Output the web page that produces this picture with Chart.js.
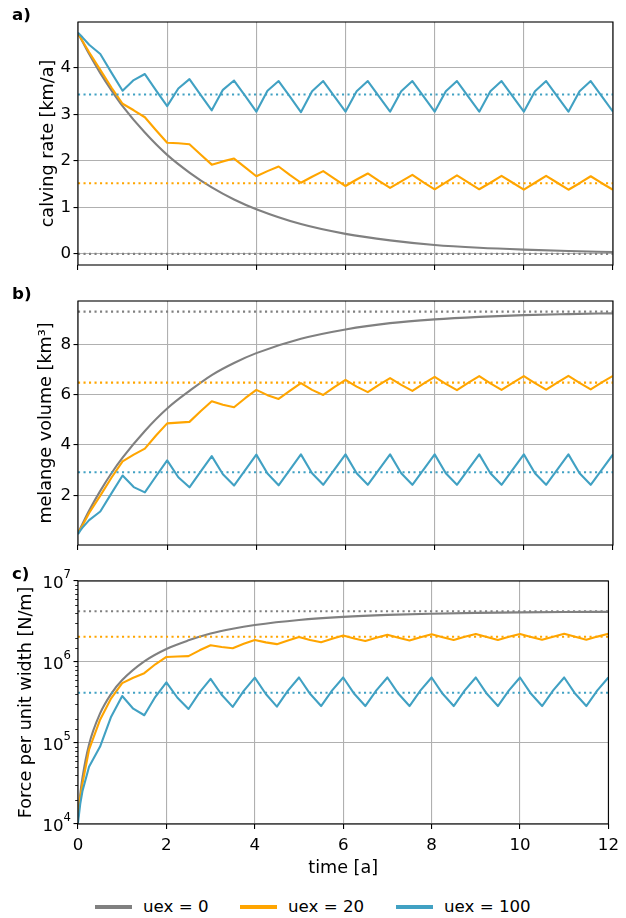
<!DOCTYPE html>
<html>
<head>
<meta charset="utf-8">
<script src="https://cdn.jsdelivr.net/npm/chart.js@4.4.1/dist/chart.umd.min.js"></script>
<style>
	html, body { margin: 0; padding: 0; background: #fff; }
	body { width: 626px; height: 918px; position: relative; overflow: hidden; font-family: "DejaVu Sans", sans-serif; }
	canvas { position: absolute; left: 0; }
	#legend { position: absolute; left: 0; top: 897px; width: 626px; height: 20px; font-size: 16.67px; line-height: 20px; color: #000; }
	#legend .item { position: absolute; top: 0; display: flex; align-items: center; white-space: nowrap; }
	#legend .swatch { display: block; width: 37px; height: 4px; margin-right: 11px; }
</style>
</head>
<body>
<canvas id="calving" width="626" height="280" style="top:0"></canvas>
<canvas id="volume" width="626" height="280" style="top:280px"></canvas>
<canvas id="force" width="626" height="320" style="top:560px"></canvas>
<div id="legend"></div>
<script>
'use strict';

// Model runs
const runLabels = ['uex = 0', 'uex = 20', 'uex = 100'];
const runColors = ['#808080', '#ffa500', '#41a1c3'];

// Output times [a]: the smooth run and the seasonal runs
const yearsSmooth = [0, 0.05, 0.1, 0.25, 0.5, 0.75, 1, 1.5, 2, 2.5, 3, 3.5, 4, 5, 6, 7, 8, 9, 10, 11, 12];
const years = [0, 0.05, 0.1, 0.25, 0.5, 0.75, 1, 1.25, 1.5, 1.75, 2, 2.25, 2.5, 2.75, 3, 3.25, 3.5, 3.75,
	4, 4.25, 4.5, 4.75, 5, 5.25, 5.5, 5.75, 6, 6.25, 6.5, 6.75, 7, 7.25, 7.5, 7.75, 8, 8.25, 8.5, 8.75,
	9, 9.25, 9.5, 9.75, 10, 10.25, 10.5, 10.75, 11, 11.25, 11.5, 11.75, 12];

// a) calving rate [km/a]
const calvingUex0 = [4.75, 4.66, 4.57, 4.30, 3.89, 3.52, 3.18, 2.61, 2.13, 1.75, 1.43, 1.17, 0.96, 0.64, 0.43, 0.29, 0.19, 0.13, 0.09, 0.06, 0.04];
const calvingUex20 = [4.75, 4.66, 4.58, 4.34, 3.96, 3.58, 3.23, 3.09, 2.94, 2.66, 2.39, 2.38, 2.36, 2.14, 1.92, 1.99, 2.05, 1.86,
	1.67, 1.78, 1.88, 1.70, 1.53, 1.66, 1.78, 1.62, 1.46, 1.60, 1.73, 1.57, 1.42, 1.56, 1.70, 1.54, 1.39, 1.54, 1.69, 1.54,
	1.39, 1.53, 1.68, 1.53, 1.38, 1.53, 1.68, 1.53, 1.38, 1.52, 1.67, 1.52, 1.38];
const calvingUex100 = [4.76, 4.71, 4.66, 4.50, 4.30, 3.90, 3.51, 3.74, 3.87, 3.52, 3.18, 3.56, 3.76, 3.42, 3.09, 3.53, 3.73, 3.40,
	3.06, 3.51, 3.72, 3.39, 3.05, 3.50, 3.72, 3.39, 3.06, 3.50, 3.72, 3.39, 3.06, 3.50, 3.72, 3.39, 3.06, 3.50, 3.72, 3.39,
	3.06, 3.50, 3.72, 3.39, 3.06, 3.50, 3.72, 3.39, 3.06, 3.50, 3.72, 3.39, 3.06];
const calvingSteady = [0, 1.52, 3.43];

// b) melange volume [km3]
const volumeUex0 = [0.50, 0.69, 0.87, 1.40, 2.18, 2.88, 3.50, 4.56, 5.45, 6.15, 6.78, 7.26, 7.65, 8.22, 8.59, 8.84, 8.99, 9.09, 9.16, 9.20, 9.23];
const volumeUex20 = [0.50, 0.66, 0.80, 1.30, 1.99, 2.70, 3.35, 3.62, 3.86, 4.38, 4.86, 4.89, 4.92, 5.34, 5.74, 5.60, 5.50, 5.86,
	6.19, 5.98, 5.83, 6.15, 6.46, 6.19, 5.99, 6.30, 6.59, 6.32, 6.10, 6.39, 6.66, 6.39, 6.15, 6.44, 6.71, 6.43, 6.18, 6.47,
	6.74, 6.45, 6.19, 6.47, 6.74, 6.46, 6.20, 6.48, 6.75, 6.47, 6.21, 6.49, 6.75];
const volumeUex100 = [0.46, 0.60, 0.72, 1.02, 1.36, 2.08, 2.79, 2.33, 2.12, 2.76, 3.39, 2.72, 2.32, 2.94, 3.56, 2.84, 2.39, 3.00,
	3.62, 2.87, 2.40, 3.01, 3.63, 2.88, 2.42, 3.02, 3.63, 2.88, 2.42, 3.02, 3.63, 2.88, 2.42, 3.02, 3.63, 2.88, 2.42, 3.02,
	3.63, 2.88, 2.42, 3.02, 3.63, 2.88, 2.42, 3.02, 3.63, 2.88, 2.42, 3.02, 3.63];
const volumeSteady = [9.30, 6.48, 2.92];

// c) force per unit width [N/m]
const forceUex0 = [1.2e4, 2.3e4, 3.7e4, 9.6e4, 2.32e5, 4.05e5, 5.99e5, 1.02e6, 1.45e6, 1.85e6, 2.25e6, 2.58e6, 2.86e6,
	3.30e6, 3.61e6, 3.82e6, 3.95e6, 4.04e6, 4.10e6, 4.14e6, 4.16e6];
const forceUex20 = [1.22e4, 2.13e4, 3.13e4, 8.26e4, 1.94e5, 3.56e5, 5.48e5, 6.40e5, 7.28e5, 9.38e5, 1.154e6, 1.169e6, 1.183e6,
	1.394e6, 1.610e6, 1.533e6, 1.478e6, 1.678e6, 1.873e6, 1.748e6, 1.661e6, 1.848e6, 2.039e6, 1.873e6, 1.753e6, 1.940e6,
	2.122e6, 1.952e6, 1.818e6, 1.995e6, 2.168e6, 1.995e6, 1.848e6, 2.027e6, 2.200e6, 2.020e6, 1.866e6, 2.046e6, 2.220e6,
	2.033e6, 1.873e6, 2.046e6, 2.220e6, 2.039e6, 1.879e6, 2.052e6, 2.227e6, 2.046e6, 1.885e6, 2.058e6, 2.227e6];
const forceUex100 = [1.03e4, 1.76e4, 2.53e4, 5.08e4, 9.04e4, 2.11e5, 3.80e5, 2.65e5, 2.20e5, 3.72e5, 5.62e5, 3.62e5, 2.63e5,
	4.22e5, 6.19e5, 3.94e5, 2.79e5, 4.40e5, 6.40e5, 4.03e5, 2.81e5, 4.43e5, 6.44e5, 4.05e5, 2.86e5, 4.46e5, 6.44e5,
	4.05e5, 2.86e5, 4.46e5, 6.44e5, 4.05e5, 2.86e5, 4.46e5, 6.44e5, 4.05e5, 2.86e5, 4.46e5, 6.44e5, 4.05e5, 2.86e5,
	4.46e5, 6.44e5, 4.05e5, 2.86e5, 4.46e5, 6.44e5, 4.05e5, 2.86e5, 4.46e5, 6.44e5];
const forceSteady = [4.23e6, 2.05e6, 4.17e5];

// Axis ticks
const timeTicks = [0, 2, 4, 6, 8, 10, 12];
const calvingTicks = [0, 1, 2, 3, 4];
const volumeTicks = [2, 4, 6, 8];
const forceTicks = [1e4, 1e5, 1e6, 1e7];

const FONT = '"DejaVu Sans", sans-serif';
const FS = 16.67;        // tick labels
const TITLE_FS = 17.6;   // axis titles
const GRID = '#b0b0b0';
const LINE_W = 2.1;

Chart.defaults.font.family = FONT;
Chart.defaults.font.size = FS;
Chart.defaults.color = '#000';

function points(xs, ys) {
	return xs.map(function(x, i) { return { x: x, y: ys[i] }; });
}

/**
 * One solid line per run plus its dotted steady-state level.
 * Later runs are drawn on top, so the list is reversed at the end.
 */
function buildDatasets(runs, steady) {
	const t0 = timeTicks[0];
	const t1 = timeTicks[timeTicks.length - 1];
	const sets = [];
	runs.forEach(function(run, i) {
		sets.push({
			label: runLabels[i],
			data: points(run.t, run.y),
			borderColor: runColors[i],
			borderWidth: LINE_W,
			borderJoinStyle: 'round',
			pointRadius: 0,
			tension: 0,
			cubicInterpolationMode: run.smooth ? 'monotone' : 'default',
			fill: false
		});
		sets.push({
			label: runLabels[i] + ' steady state',
			data: points([t0, t1], [steady[i], steady[i]]),
			borderColor: runColors[i],
			borderWidth: LINE_W,
			borderDash: [2.1, 3.4],
			pointRadius: 0,
			fill: false
		});
	});
	return sets.reverse();
}

function timeScale(showLabels, height) {
	return {
		type: 'linear',
		min: timeTicks[0],
		max: timeTicks[timeTicks.length - 1],
		afterBuildTicks: function(s) { s.ticks = timeTicks.map(function(v) { return { value: v }; }); },
		afterFit: function(s) { s.height = height; },
		border: { display: false },
		grid: { color: GRID, lineWidth: 1.1, tickColor: '#000', tickWidth: 1.1, tickLength: 4.9 },
		ticks: { display: showLabels, padding: 7, autoSkip: false, maxRotation: 0 },
		title: { display: showLabels, text: 'time [a]', font: { size: TITLE_FS }, padding: { top: 0, bottom: 1.5 } }
	};
}

function linearScale(min, max, tickList, title, titleOffset) {
	return {
		type: 'linear',
		min: min,
		max: max,
		afterBuildTicks: function(s) { s.ticks = tickList.map(function(v) { return { value: v }; }); },
		afterFit: function(s) { s.width = 78; },
		border: { display: false },
		grid: { color: GRID, lineWidth: 1.1, tickColor: '#000', tickWidth: 1.1, tickLength: 4.5 },
		ticks: { padding: 2.5, autoSkip: false },
		title: { display: true, text: title, font: { size: TITLE_FS }, padding: { top: titleOffset, bottom: 0 } }
	};
}

function isDecade(v) {
	const l = Math.log10(v);
	return Math.abs(l - Math.round(l)) < 1e-9;
}

// Axes box on all four sides and the panel letter
const framePlugin = {
	id: 'frame',
	afterDraw: function(chart, args, opts) {
		const a = chart.chartArea;
		const ctx = chart.ctx;
		ctx.save();
		ctx.strokeStyle = '#000';
		ctx.lineWidth = 1.1;
		ctx.strokeRect(a.left, a.top, a.right - a.left, a.bottom - a.top);
		ctx.fillStyle = '#000';
		ctx.font = 'bold ' + FS + 'px ' + FONT;
		ctx.textAlign = 'left';
		ctx.textBaseline = 'middle';
		ctx.fillText(opts.letter, 12, a.top - 6.5);
		ctx.restore();
	}
};

// Power-of-ten labels and minor ticks on the log axis
const logAxisPlugin = {
	id: 'logAxis',
	afterDraw: function(chart) {
		const s = chart.scales.y;
		const ctx = chart.ctx;
		const left = chart.chartArea.left;
		ctx.save();
		ctx.strokeStyle = '#000';
		ctx.lineWidth = 0.85;
		s.ticks.forEach(function(t) {
			if (isDecade(t.value)) {
				return;
			}
			const y = Math.round(s.getPixelForValue(t.value)) + 0.5;
			ctx.beginPath();
			ctx.moveTo(left - 2.8, y);
			ctx.lineTo(left, y);
			ctx.stroke();
		});
		ctx.fillStyle = '#000';
		ctx.textAlign = 'right';
		ctx.textBaseline = 'middle';
		const right = left - 4.5 - 2.5;
		forceTicks.forEach(function(v) {
			const y = s.getPixelForValue(v);
			const exp = String(Math.round(Math.log10(v)));
			ctx.font = (FS * 0.7).toFixed(2) + 'px ' + FONT;
			const ew = ctx.measureText(exp).width;
			ctx.fillText(exp, right, y - 6);
			ctx.font = FS + 'px ' + FONT;
			ctx.fillText('10', right - ew, y + 2.5);
		});
		ctx.restore();
	}
};

function baseOptions(letter, padTop, scales) {
	return {
		responsive: false,
		animation: false,
		devicePixelRatio: 1,
		events: [],
		layout: { padding: { top: padTop, right: 13, bottom: 0, left: 0 } },
		plugins: {
			legend: { display: false },
			tooltip: { enabled: false },
			frame: { letter: letter }
		},
		scales: scales
	};
}

// a) calving rate
new Chart(document.getElementById('calving'), {
	type: 'line',
	data: {
		datasets: buildDatasets([
			{ t: yearsSmooth, y: calvingUex0, smooth: true },
			{ t: years, y: calvingUex20 },
			{ t: years, y: calvingUex100 }
		], calvingSteady)
	},
	options: baseOptions('a)', 22, {
		x: timeScale(false, 15),
		y: linearScale(-0.24, 4.99, calvingTicks, 'calving rate [km/a]', 37.4)
	}),
	plugins: [framePlugin]
});

// b) melange volume
new Chart(document.getElementById('volume'), {
	type: 'line',
	data: {
		datasets: buildDatasets([
			{ t: yearsSmooth, y: volumeUex0, smooth: true },
			{ t: years, y: volumeUex20 },
			{ t: years, y: volumeUex100 }
		], volumeSteady)
	},
	options: baseOptions('b)', 21, {
		x: timeScale(false, 15),
		y: linearScale(0.03, 9.72, volumeTicks, 'melange volume [km\u00b3]', 36)
	}),
	plugins: [framePlugin]
});

// c) force per unit width, log axis
new Chart(document.getElementById('force'), {
	type: 'line',
	data: {
		datasets: buildDatasets([
			{ t: yearsSmooth, y: forceUex0, smooth: true },
			{ t: years, y: forceUex20 },
			{ t: years, y: forceUex100 }
		], forceSteady)
	},
	options: baseOptions('c)', 21, {
		x: timeScale(true, 56),
		y: {
			type: 'logarithmic',
			min: forceTicks[0],
			max: forceTicks[forceTicks.length - 1],
			afterFit: function(s) { s.width = 78; },
			border: { display: false },
			grid: {
				lineWidth: 1.1,
				tickWidth: 1.1,
				tickLength: 4.5,
				color: function(c) { return c.tick && isDecade(c.tick.value) ? GRID : 'rgba(0,0,0,0)'; },
				tickColor: function(c) { return c.tick && isDecade(c.tick.value) ? '#000' : 'rgba(0,0,0,0)'; }
			},
			ticks: { display: false },
			title: { display: true, text: 'Force per unit width [N/m]', font: { size: TITLE_FS }, padding: { top: 15.4, bottom: 0 } }
		}
	}),
	plugins: [framePlugin, logAxisPlugin]
});

// Shared legend below the panels
const legendLeft = [95, 240, 396];
const legend = document.getElementById('legend');
runLabels.forEach(function(label, i) {
	const item = document.createElement('div');
	item.className = 'item';
	item.style.left = legendLeft[i] + 'px';
	const swatch = document.createElement('span');
	swatch.className = 'swatch';
	swatch.style.background = runColors[i];
	const text = document.createElement('span');
	text.textContent = label;
	item.appendChild(swatch);
	item.appendChild(text);
	legend.appendChild(item);
});
</script>
</body>
</html>
